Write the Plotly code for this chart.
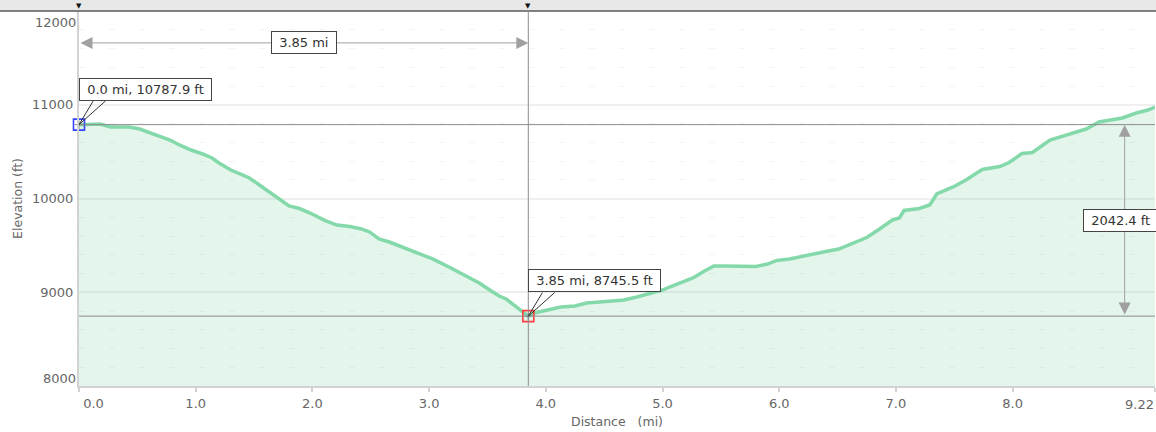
import plotly.graph_objects as go

# ---------------- data ----------------
DIST_MI = [0.00, 0.09, 0.18, 0.27, 0.43, 0.52, 0.60, 0.69, 0.78, 0.86, 0.96, 1.06, 1.14, 1.20,
           1.30, 1.40, 1.46, 1.57, 1.69, 1.80, 1.89, 1.98, 2.11, 2.21, 2.32, 2.42, 2.49, 2.57,
           2.66, 2.75, 2.89, 3.03, 3.17, 3.32, 3.43, 3.52, 3.60, 3.66, 3.73, 3.79, 3.85,
           3.90, 4.00, 4.13, 4.25, 4.35, 4.46, 4.57, 4.67, 4.78, 4.91, 5.00, 5.06, 5.16, 5.26,
           5.36, 5.44, 5.53, 5.66, 5.80, 5.90, 5.98, 6.09, 6.23, 6.40, 6.51, 6.63, 6.75, 6.86,
           6.97, 7.03, 7.07, 7.20, 7.29, 7.35, 7.40, 7.49, 7.60, 7.69, 7.74, 7.89, 7.97, 8.08,
           8.17, 8.32, 8.46, 8.63, 8.74, 8.94, 9.06, 9.16, 9.22]
ELEV_FT = [10787.9, 10795, 10795, 10763, 10763, 10741, 10704, 10667, 10624, 10571, 10517, 10475,
           10432, 10379, 10304, 10251, 10219, 10123, 10016, 9920, 9893, 9845, 9765, 9717, 9701,
           9675, 9643, 9568, 9536, 9493, 9429, 9355, 9269, 9173, 9099, 9024, 8960, 8928, 8864,
           8800, 8745.5,
           8779, 8811, 8843, 8853, 8885, 8896, 8907, 8917, 8949, 8992, 9024, 9056, 9109, 9152,
           9227, 9280, 9280, 9280, 9275, 9301, 9339, 9355, 9387, 9435, 9461, 9520, 9584, 9675,
           9771, 9792, 9872, 9893, 9931, 10048, 10075, 10123, 10197, 10272, 10309, 10341, 10384,
           10480, 10491, 10624, 10677, 10741, 10816, 10859, 10912, 10944, 10976]

X_TICKS = [0, 1, 2, 3, 4, 5, 6, 7, 8, 9.22]
X_TICK_TEXT = ["0.0", "1.0", "2.0", "3.0", "4.0", "5.0", "6.0", "7.0", "8.0", "9.22"]
Y_TICKS = [8000, 9000, 10000, 11000, 12000]
Y_TICK_TEXT = ["8000", "9000", "10000", "11000", "12000"]

X_TITLE = "Distance   (mi)"
Y_TITLE = "Elevation (ft)"

# ---------------- styling / layout constants ----------------
W, H = 1156, 432
ML, MR, MT, MB = 79, 1, 11, 46
X_RANGE = [0, 9.22]
Y_RANGE = [8000, 12000]
FONT = "DejaVu Sans, Verdana, sans-serif"
LINE_COLOR = "#84d9aa"
FILL_COLOR = "rgba(132, 210, 170, 0.22)"
TXT = "#666666"
REF = "#8c8c8c"
NB = "\u00a0"

start_x, start_y = DIST_MI[0], ELEV_FT[0]
imin = ELEV_FT.index(min(ELEV_FT))
min_x, min_y = DIST_MI[imin], ELEV_FT[imin]
gain = start_y - min_y

plot_h = H - MT - MB
plot_w = W - ML - MR

fig = go.Figure()

fig.add_trace(go.Scatter(
    x=DIST_MI, y=ELEV_FT, mode="lines",
    line=dict(color=LINE_COLOR, width=3.5, shape="linear"),
    fill="tozeroy", fillcolor=FILL_COLOR, hoverinfo="skip", showlegend=False))

# point markers (square with a small cross)
for px, py, col in [(start_x, start_y, "#3344ff"), (min_x, min_y, "#ff3b3b")]:
    fig.add_trace(go.Scatter(x=[px], y=[py], mode="markers", cliponaxis=False,
                             marker=dict(symbol="square-open", size=11, color=col,
                                         line=dict(width=1.6, color=col)),
                             hoverinfo="skip", showlegend=False))
    fig.add_trace(go.Scatter(x=[px], y=[py], mode="markers", cliponaxis=False,
                             marker=dict(symbol="cross-thin-open", size=6, color="#888888",
                                         line=dict(width=1, color="#888888")),
                             hoverinfo="skip", showlegend=False))

shapes = [
    # top band + border
    dict(type="rect", xref="paper", yref="paper", x0=-ML / plot_w, x1=1 + MR / plot_w,
         y0=1, y1=1 + MT / plot_h, fillcolor="#e8e8e8", line=dict(width=0), layer="below"),
    dict(type="line", xref="paper", yref="paper", x0=-ML / plot_w, x1=1 + MR / plot_w,
         y0=1, y1=1, line=dict(color="#5a5a5a", width=1.5)),
    # reference lines
    dict(type="line", xref="paper", yref="y", x0=0, x1=1, y0=start_y, y1=start_y,
         line=dict(color=REF, width=1)),
    dict(type="line", xref="paper", yref="y", x0=0, x1=1, y0=min_y, y1=min_y,
         line=dict(color=REF, width=1)),
    dict(type="line", xref="x", yref="paper", x0=min_x, x1=min_x, y0=0, y1=1,
         line=dict(color=REF, width=1)),
]

annotations = []
box = dict(font=dict(family=FONT, size=13, color="#333333"), bgcolor="white",
           bordercolor="#444444", borderwidth=1, borderpad=3)

# little markers above the plot (at the two selected points)
for px in (start_x, min_x):
    annotations.append(dict(x=px, xref="x", y=1, yref="paper", text="▼", showarrow=False,
                            yanchor="bottom", yshift=-1,
                            font=dict(family=FONT, size=7, color="#111111")))

# callout labels on the two points
for px, py in [(start_x, start_y), (min_x, min_y)]:
    for dx in (15, 28):
        annotations.append(dict(x=px, y=py, xref="x", yref="y", text="", showarrow=True,
                                ax=dx, ay=-25, arrowhead=0, arrowwidth=1, arrowcolor="#333333",
                                standoff=0))
    annotations.append(dict(x=px, y=py, xref="x", yref="y", showarrow=False,
                            xanchor="left", yanchor="bottom", yshift=24,
                            text=f"{NB}{px:.2f} mi, {py:.1f} ft{NB}".replace("0.00 mi", "0.0 mi"),
                            **box))

# horizontal distance arrow
ARROW_Y = 11660
annotations.append(dict(x=min_x, y=ARROW_Y, ax=start_x, ay=ARROW_Y, xref="x", yref="y",
                        axref="x", ayref="y", text="", showarrow=True, arrowside="end+start",
                        arrowhead=2, arrowsize=2.4, arrowwidth=1, arrowcolor="#a0a0a0",
                        standoff=0, startstandoff=0))
annotations.append(dict(x=(start_x + min_x) / 2, y=ARROW_Y, xref="x", yref="y", showarrow=False,
                        text=f"{NB}{min_x - start_x:.2f} mi{NB}", **box))

# vertical gain arrow
GAIN_X = 8.96
annotations.append(dict(x=GAIN_X, y=start_y, ax=GAIN_X, ay=min_y, xref="x", yref="y",
                        axref="x", ayref="y", text="", showarrow=True, arrowside="end+start",
                        arrowhead=2, arrowsize=2.4, arrowwidth=1, arrowcolor="#a0a0a0",
                        standoff=0, startstandoff=0))
annotations.append(dict(x=GAIN_X, y=(start_y + min_y) / 2, xref="x", yref="y", showarrow=False,
                        xshift=-4, text=f"{NB}{gain:.1f} ft{NB}", **box))

# end y tick labels (pushed inside the plot height like the original)
for val, txt, shift in [(Y_TICKS[0], Y_TICK_TEXT[0], 8), (Y_TICKS[-1], Y_TICK_TEXT[-1], -11)]:
    annotations.append(dict(x=0, xref="paper", y=val, yref="y", text=txt, showarrow=False,
                            xanchor="right", xshift=-1, yshift=shift,
                            font=dict(family=FONT, size=13, color=TXT)))

# last x tick label, right-aligned to stay inside the figure
annotations.append(dict(x=X_TICKS[-1], xref="x", y=0, yref="paper", text=X_TICK_TEXT[-1],
                        showarrow=False, xanchor="right", yanchor="top", xshift=1, yshift=-9,
                        font=dict(family=FONT, size=13, color=TXT)))

y_tick_text = [""] + Y_TICK_TEXT[1:-1] + [""]
x_tick_text = list(X_TICK_TEXT)
x_tick_text[0] = NB * 7 + x_tick_text[0]
x_tick_text[-1] = ""

fig.update_layout(
    width=W, height=H, margin=dict(l=ML, r=MR, t=MT, b=MB, autoexpand=False),
    paper_bgcolor="white", plot_bgcolor="white", template="none",
    font=dict(family=FONT, size=13, color=TXT),
    shapes=shapes, annotations=annotations, showlegend=False,
    xaxis=dict(range=X_RANGE, tickvals=X_TICKS, ticktext=x_tick_text, showgrid=False,
               zeroline=False, showline=True, linecolor="#d2d2d2", linewidth=2,
               ticks="outside", ticklen=4, tickcolor="#d2d2d2", tickwidth=2,
               tickfont=dict(family=FONT, size=13, color=TXT),
               title=dict(text=X_TITLE, font=dict(family=FONT, size=12.5, color=TXT), standoff=8),
               automargin=False),
    yaxis=dict(range=Y_RANGE, tickvals=Y_TICKS, ticktext=y_tick_text, showgrid=True,
               gridcolor="#efefef", gridwidth=2, zeroline=False, showline=True,
               linecolor="#d2d2d2", linewidth=2, ticks="", ticklabelstandoff=1,
               tickfont=dict(family=FONT, size=13, color=TXT),
               minor=dict(dtick=200, showgrid=True, gridcolor="#f4f4f4", gridwidth=1,
                          griddash="6px,24px"),
               title=dict(text=Y_TITLE, font=dict(family=FONT, size=12.5, color=TXT), standoff=7),
               automargin=False),
)

fig.write_html("out.html", config={"displayModeBar": False},
               post_script="document.body.style.margin='0';document.body.style.padding='0';")
